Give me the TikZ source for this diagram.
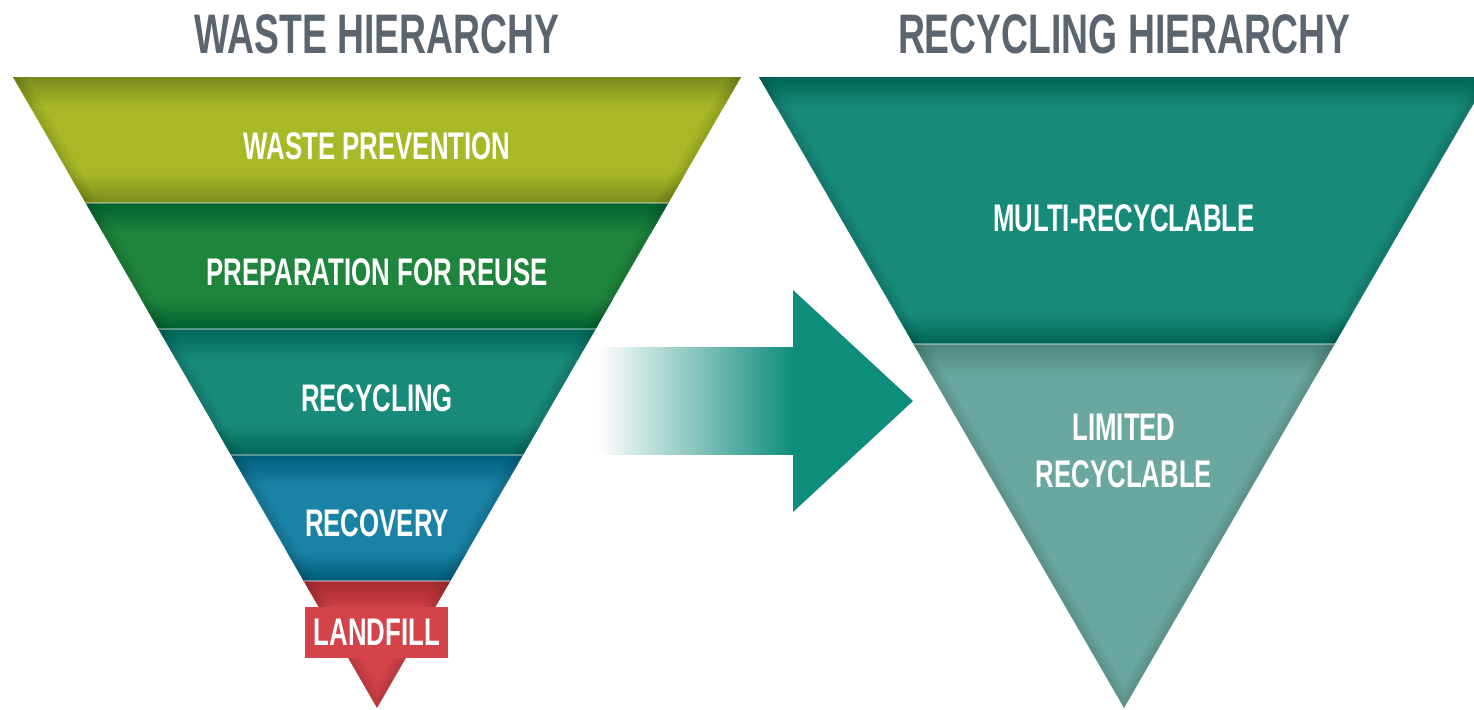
\documentclass[tikz,border=0pt]{standalone}
\usepackage{fontspec}
\setmainfont{Liberation Sans}[FakeStretch=0.67]
\definecolor{titlegray}{HTML}{5B6570}
\definecolor{olive}{HTML}{A8B826}
\definecolor{olivedk}{HTML}{7A8A1E}
\definecolor{grn}{HTML}{1F853D}
\definecolor{grndk}{HTML}{00602E}
\definecolor{teal1}{HTML}{178A7A}
\definecolor{teal1dk}{HTML}{00675A}
\definecolor{blu}{HTML}{1A82A5}
\definecolor{bludk}{HTML}{005D7A}
\definecolor{redb}{HTML}{D4434A}
\definecolor{redbdk}{HTML}{A52A2F}
\definecolor{rtop}{HTML}{178A7A}
\definecolor{rtopdk}{HTML}{006556}
\definecolor{rbot}{HTML}{6AA89F}
\definecolor{rbotdk}{HTML}{4C867B}
\definecolor{arrowteal}{HTML}{0E8C7C}
\tikzset{
  titletext/.style={inner sep=0pt, text=titlegray, font=\fontsize{55.7}{60}\selectfont\bfseries},
  bandtext/.style={inner sep=0pt, text=white, align=center, font=\fontsize{38.5}{47}\selectfont\bfseries},
  sep/.style={white, opacity=0.35, line width=1.2pt},
  rim/.style={black, opacity=0.04, line join=round}
}
% band: x0,x1,ytop,ybot,base,dark
\newcommand{\myband}[6]{%
  \fill[#5] (#1,#3) rectangle (#2,#4);
  \shade[top color=#6, bottom color=#5] (#1,#3) rectangle (#2,#3+30);
  \shade[top color=#5, bottom color=#6] (#1,#4-30) rectangle (#2,#4);
}
\begin{document}
\begin{tikzpicture}[x=1pt,y=-1pt]
\useasboundingbox (0,0) rectangle (1474,709);
\clip (0,0) rectangle (1474,709);
\fill[white] (0,0) rectangle (1474,709);

% ---- left triangle
\begin{scope}
  \clip (13,77) -- (741,77) -- (377,708) -- cycle;
  \myband{0}{760}{77}{203}{olive}{olivedk}
  \myband{0}{760}{203}{329}{grn}{grndk}
  \myband{0}{760}{329}{455}{teal1}{teal1dk}
  \myband{0}{760}{455}{581}{blu}{bludk}
  \fill[redb] (0,581) rectangle (760,709);
  \shade[top color=redbdk, bottom color=redb] (0,581) rectangle (760,611);
  \foreach \w in {22,14,8} {
    \draw[rim, line width=\w pt] (13,77) -- (377,708) -- (741,77);
  }
  \draw[sep] (0,203) -- (760,203);
  \draw[sep] (0,329) -- (760,329);
  \draw[sep] (0,455) -- (760,455);
  \draw[sep] (0,581) -- (760,581);
\end{scope}
\fill[redb] (305,607) rectangle (448,658);

% ---- right triangle
\begin{scope}
  \clip (759,77) -- (1489,77) -- (1124,708) -- cycle;
  \fill[rtop] (740,77) rectangle (1500,344);
  \shade[top color=rtopdk, bottom color=rtop] (740,77) rectangle (1500,107);
  \shade[top color=rtop, bottom color=rtopdk] (740,314) rectangle (1500,344);
  \fill[rbot] (740,344) rectangle (1500,709);
  \shade[top color=rbotdk, bottom color=rbot] (740,344) rectangle (1500,376);
  \foreach \w in {22,14,8} {
    \draw[rim, line width=\w pt] (759,77) -- (1124,708) -- (1489,77);
  }
  \draw[sep] (740,344) -- (1500,344);
\end{scope}

% ---- arrow
\shade[left color=white, right color=arrowteal] (597,347) rectangle (793.5,454);
\fill[arrowteal] (793,290) -- (913,401) -- (793,512) -- cycle;

% ---- texts
\node[titletext] (t1) at (377,34) {WASTE HIERARCHY};
\node[titletext] (t2) at (1124,34) {RECYCLING HIERARCHY};
\node[bandtext] (b1) at (377,146) {WASTE PREVENTION};
\node[bandtext] (b2) at (377,272) {PREPARATION FOR REUSE};
\node[bandtext] (b3) at (377,398) {RECYCLING};
\node[bandtext] (b4) at (377,523) {RECOVERY};
\node[bandtext] (b5) at (377,632) {LANDFILL};
\node[bandtext] (r1) at (1124,218) {MULTI-RECYCLABLE};
\node[bandtext] (r2) at (1124,451) {LIMITED\\RECYCLABLE};
\end{tikzpicture}
\end{document}
